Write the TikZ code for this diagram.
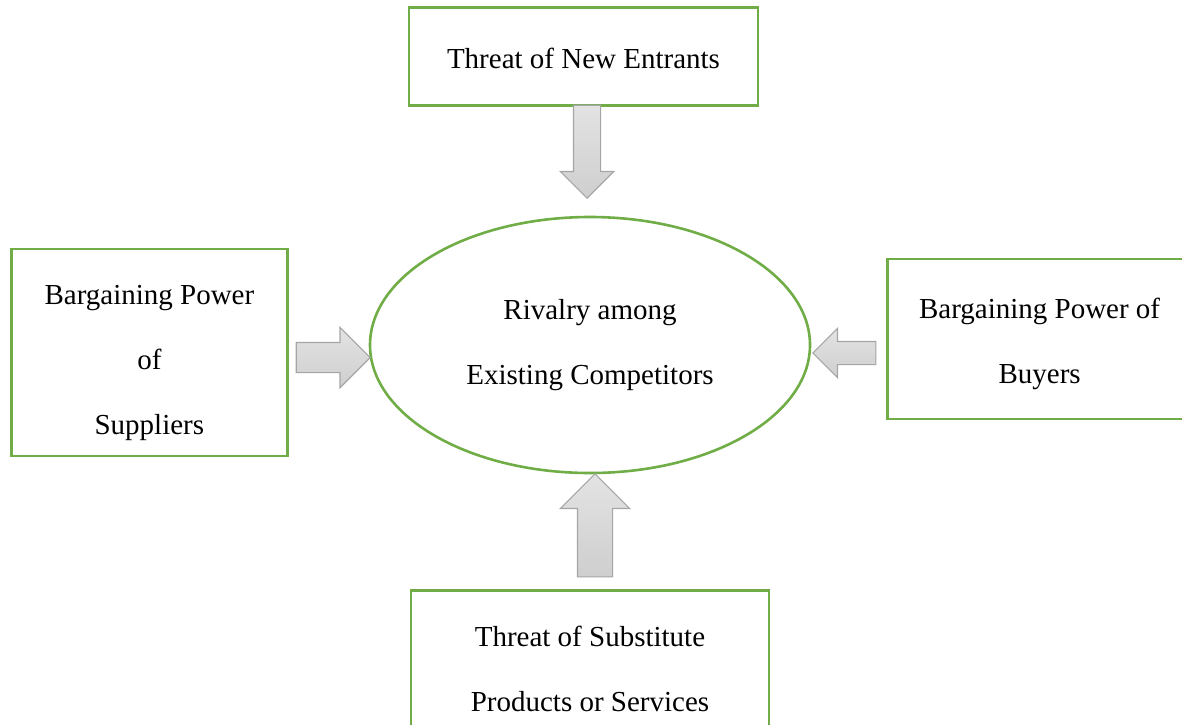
\documentclass[tikz,border=0pt]{standalone}
\usepackage{fontspec}
\setmainfont{Liberation Serif}
\usetikzlibrary{positioning,shapes.geometric,shapes.arrows}
\definecolor{boxgreen}{HTML}{70AD47}
\definecolor{arrowline}{HTML}{A5A5A5}

\begin{document}
\begin{tikzpicture}[x=0.5pt, y=-0.5pt,
	every node/.style = {font=\fontsize{14.5}{32.5}\selectfont, align=center},
	force/.style = {draw=boxgreen, line width=1.3pt, rectangle, inner sep=0pt},
	rival/.style = {draw=boxgreen, line width=1.3pt, ellipse, inner sep=0pt, minimum width=220pt, minimum height=128pt},
	push/.style = {single arrow, anchor=tip, draw=arrowline, line width=0.6pt, top color=gray!22, bottom color=gray!38, inner xsep=0pt, single arrow tip angle=90}]

	\useasboundingbox (0,0) rectangle (1182,724);

	\node[rival] (rivalry) at (590,345) {Rivalry among\\Existing Competitors};
	\node[force, minimum width=174.5pt, minimum height=49pt] (entrants) [above=54.5pt of rivalry, xshift=-3.25pt] {\rule{0pt}{12pt}Threat of New Entrants};
	\node[force, minimum width=138pt, minimum height=103.5pt] (suppliers) [left=40pt of rivalry, yshift=-3.75pt] {\rule{0pt}{20pt}Bargaining Power\\of\\Suppliers};
	\node[force, minimum width=152pt, minimum height=80pt] (buyers) [right=37.5pt of rivalry, yshift=3pt] {\rule{0pt}{15pt}Bargaining Power of\\Buyers};
	\node[force, minimum width=179pt, minimum height=78.5pt] (substitutes) [below=57.5pt of rivalry] {Threat of Substitute\\Products or Services};

	\node[push, rotate=-90, minimum height=46.5pt, inner ysep=6.5pt, single arrow head extend=6.5pt] (a1) at (587,199) {};
	\node[push, minimum height=37pt, inner ysep=7.25pt, single arrow head extend=7.5pt] (a2) at (371,357.5) {};
	\node[push, rotate=180, minimum height=31.5pt, inner ysep=5.5pt, single arrow head extend=6.5pt] (a3) at (812,353) {};
	\node[push, rotate=90, minimum height=51.5pt, inner ysep=8.5pt, single arrow head extend=8.5pt] (a4) at (595,473) {};

\end{tikzpicture}
\end{document}
